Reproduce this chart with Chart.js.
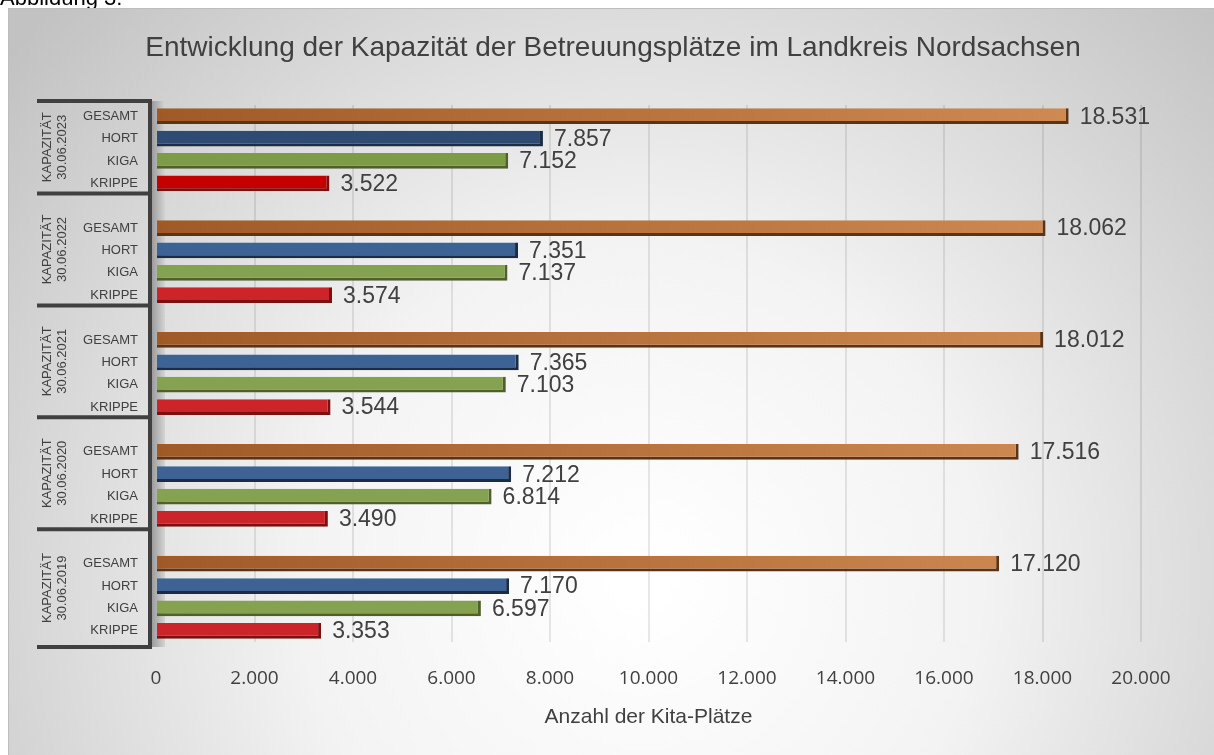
<!DOCTYPE html>
<html lang="de">
<head>
<meta charset="utf-8">
<title>Kapazität der Betreuungsplätze Nordsachsen</title>
<script src="https://cdn.jsdelivr.net/npm/chart.js@4.4.0/dist/chart.umd.min.js"></script>
<style>
  html, body { margin: 0; padding: 0; background: #fff; overflow: hidden; }
  #wrap { width: 1214px; height: 755px; }
</style>
</head>
<body>
<div id="wrap"><canvas id="canvas" width="1214" height="755"></canvas></div>
<script>
// Daten (von oben nach unten wie im Diagramm)
const stichtage = ['30.06.2023', '30.06.2022', '30.06.2021', '30.06.2020', '30.06.2019'];
const kategorien = ['GESAMT', 'HORT', 'KIGA', 'KRIPPE'];
const gesamt = [18531, 18062, 18012, 17516, 17120];
const hort = [7857, 7351, 7365, 7212, 7170];
const kiga = [7152, 7137, 7103, 6814, 6597];
const krippe = [3522, 3574, 3544, 3490, 3353];

const titel = 'Entwicklung der Kapazität der Betreuungsplätze im Landkreis Nordsachsen';
const achsenTitel = 'Anzahl der Kita-Plätze';

const FONT = '"Liberation Sans", Arial, sans-serif';
const TEXT = '#404040';

// Zeilen aufbauen: je Stichtag 4 Kategorien, dazwischen eine Leerzeile
const labels = [], values = [], kat = [], grp = [];
stichtage.forEach((s, g) => {
  if (g > 0) { labels.push(''); values.push(null); kat.push(-1); grp.push(g); }
  [gesamt, hort, kiga, krippe].forEach((arr, k) => {
    labels.push(kategorien[k]);
    values.push(arr[g]);
    kat.push(k);
    grp.push(g);
  });
});

const fmt = n => String(n).replace(/\B(?=(\d{3})+(?!\d))/g, '.');

function fuellung(ctx) {
  const i = ctx.dataIndex, k = kat[i], g = grp[i];
  if (k === 0) {
    const area = ctx.chart.chartArea;
    if (!area) return '#b06a35';
    const gr = ctx.chart.ctx.createLinearGradient(area.left, 0, area.right, 0);
    gr.addColorStop(0, '#a05a28');
    gr.addColorStop(1, '#d28e55');
    return gr;
  }
  if (k === 1) return g === 0 ? '#2f4b73' : '#3d6395';
  if (k === 2) return g === 0 ? '#7e9c48' : '#84a250';
  return g === 0 ? '#c40000' : '#cc2428';
}
function kante(ctx) {
  const k = kat[ctx.dataIndex];
  return ['#5e3214', '#1b2c45', '#4d6128', '#7a1010'][k] || '#333';
}

const hintergrund = {
  id: 'hintergrund',
  beforeDraw(chart) {
    const c = chart.ctx, w = chart.width, h = chart.height;
    c.save();
    c.fillStyle = '#fff';
    c.fillRect(0, 0, w, h);
    c.fillStyle = '#000';
    c.font = '22px ' + FONT;
    c.textBaseline = 'alphabetic';
    c.fillText('Abbildung 3:', 0, 5);
    const rg = c.createRadialGradient(640, 580, 20, 640, 580, 820);
    rg.addColorStop(0, '#ffffff');
    rg.addColorStop(0.4, '#f3f3f3');
    rg.addColorStop(1, '#c2c2c2');
    c.fillStyle = rg;
    c.fillRect(8, 8, w - 8, h - 8);
    c.strokeStyle = '#bdbdbd';
    c.lineWidth = 1;
    c.strokeRect(8.5, 8.5, w - 8, h - 8);
    c.fillStyle = TEXT;
    c.font = '28px ' + FONT;
    c.textAlign = 'center';
    c.textBaseline = 'middle';
    c.fillText(titel, 613, 48);
    c.restore();
  }
};

const wand = {
  id: 'wand',
  beforeDatasetsDraw(chart) {
    const c = chart.ctx, a = chart.chartArea;
    c.save();
    const gr = c.createLinearGradient(a.left - 6, 0, a.left + 9, 0);
    gr.addColorStop(0, '#949494');
    gr.addColorStop(1, '#d4d4d4');
    c.fillStyle = gr;
    c.fillRect(a.left - 6, a.top - 4, 15, a.bottom - a.top + 9);
    c.restore();
  }
};

const werte = {
  id: 'werte',
  afterDatasetsDraw(chart) {
    const c = chart.ctx;
    const meta = chart.getDatasetMeta(0);
    c.save();
    c.fillStyle = TEXT;
    c.font = '23px ' + FONT;
    c.textAlign = 'left';
    c.textBaseline = 'middle';
    meta.data.forEach((bar, i) => {
      if (values[i] == null) return;
      c.fillText(fmt(values[i]), bar.x + 11, bar.y + 1);
    });
    c.restore();
  }
};

const gruppenAchse = {
  id: 'gruppenAchse',
  afterDraw(chart) {
    const c = chart.ctx, a = chart.chartArea, y = chart.scales.y;
    const rowH = (a.bottom - a.top) / labels.length;
    const axX = a.left - 6;
    c.save();
    // Kategorienamen
    c.fillStyle = TEXT;
    c.font = '13px ' + FONT;
    c.textAlign = 'right';
    c.textBaseline = 'middle';
    labels.forEach((l, i) => { if (l) c.fillText(l, axX - 12, y.getPixelForValue(i)); });
    // Gruppengrenzen
    const grenzen = [a.top - 4];
    stichtage.forEach((s, g) => {
      const last = grp.lastIndexOf(g);
      grenzen.push(g === stichtage.length - 1 ? a.bottom + 5 : y.getPixelForValue(last) + rowH / 2 - 1);
    });
    c.strokeStyle = '#404040';
    c.lineWidth = 4;
    c.beginPath();
    grenzen.forEach(gy => { c.moveTo(37, gy); c.lineTo(axX + 2, gy); });
    c.moveTo(axX, grenzen[0] - 2);
    c.lineTo(axX, grenzen[grenzen.length - 1] + 2);
    c.stroke();
    // Gruppenbeschriftung (gedreht)
    c.font = '13px ' + FONT;
    c.textAlign = 'center';
    stichtage.forEach((s, g) => {
      const mid = (grenzen[g] + grenzen[g + 1]) / 2;
      c.save();
      c.translate(54, mid);
      c.rotate(-Math.PI / 2);
      c.fillText('KAPAZITÄT', 0, -7);
      c.fillText(s, 0, 8);
      c.restore();
    });
    c.restore();
  }
};

new Chart(document.getElementById('canvas'), {
  type: 'bar',
  data: {
    labels: labels,
    datasets: [{
      data: values,
      backgroundColor: fuellung,
      borderColor: kante,
      borderWidth: { top: 0, left: 0, right: 3, bottom: 3 },
      borderSkipped: false,
      barPercentage: 0.7,
      categoryPercentage: 1
    }]
  },
  options: {
    indexAxis: 'y',
    responsive: false,
    animation: false,
    devicePixelRatio: 1,
    layout: { padding: { left: 156, right: 73, top: 105, bottom: 0 } },
    plugins: { legend: { display: false }, tooltip: { enabled: false } },
    scales: {
      y: { display: false },
      x: {
        min: 0,
        max: 20000,
        ticks: {
          stepSize: 2000,
          callback: v => fmt(v),
          color: TEXT,
          font: { family: '"Open Sans", sans-serif', size: 19 },
          padding: 25,
          maxRotation: 0
        },
        grid: { color: 'rgba(0,0,0,0.09)', lineWidth: 2, drawTicks: false },
        border: { display: false },
        title: {
          display: true,
          text: achsenTitel,
          color: TEXT,
          font: { family: FONT, size: 21 },
          padding: { top: 0, bottom: 25 }
        },
        afterFit: s => { s.height = 113; }
      }
    }
  },
  plugins: [hintergrund, wand, werte, gruppenAchse]
});
</script>
</body>
</html>
